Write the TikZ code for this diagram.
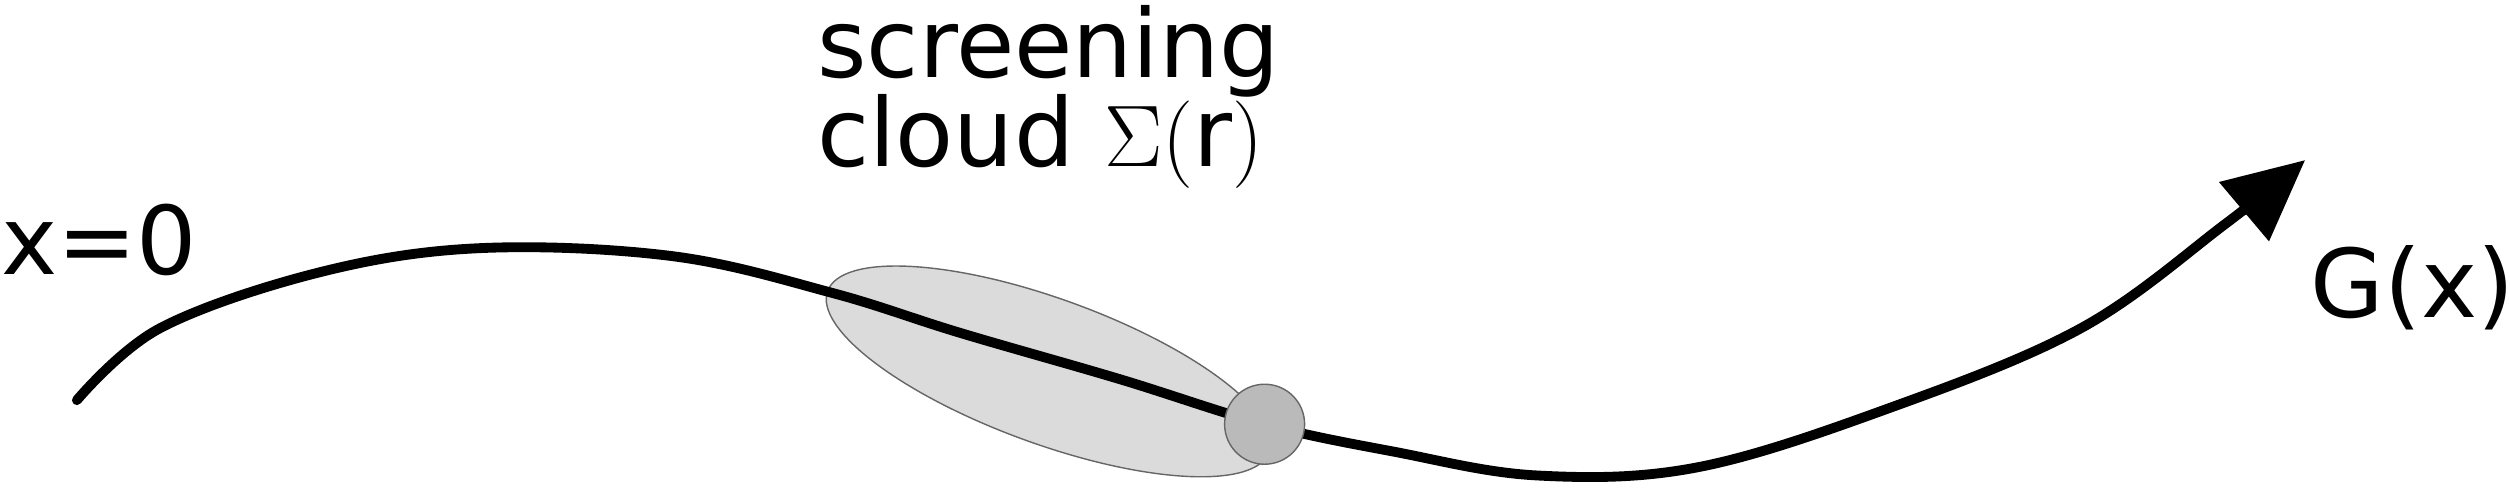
\documentclass[tikz,border=0pt]{standalone}
\usepackage{fontspec}
\setmainfont{DejaVu Sans}
\usetikzlibrary{arrows.meta,shapes.geometric}
\begin{document}
\begin{tikzpicture}[x=0.016cm,y=-0.016cm,
  lbl/.style={font=\fontsize{27}{32}\selectfont, inner sep=0pt},
  curve/.style={line width=2.8pt, line cap=round}]
\useasboundingbox (0,0) rectangle (1568,314);
\node[draw=black!60, fill=black!14, thin, ellipse, minimum width=4.7cm, minimum height=1.45cm, inner sep=0pt, rotate=-20] (cloud) at (655,232) {};
\draw[curve, -{Triangle[length=0.8cm,width=0.75cm]}] plot[smooth, tension=0.6] coordinates {
 (48,250) (100,205) (200,170) (300,155) (420,160) (520,183) (600,208) (700,237) (790,265)
 (870,282) (960,297) (1060,292) (1180,255) (1300,205) (1390,140) (1440,100)};
\node[circle, draw=black!60, fill=black!27, thin, minimum size=0.8cm, inner sep=0pt] (imp) at (790,265) {};
\node[lbl] (t1) at (655,32) {screening};
\node[lbl] (t2) at (650,88) {cloud $\Sigma(\mathrm{r})$};
\node[lbl] (x0) at (62,150) {x=0};
\node[lbl] (gx) at (1507,180) {G(x)};
\end{tikzpicture}
\end{document}
